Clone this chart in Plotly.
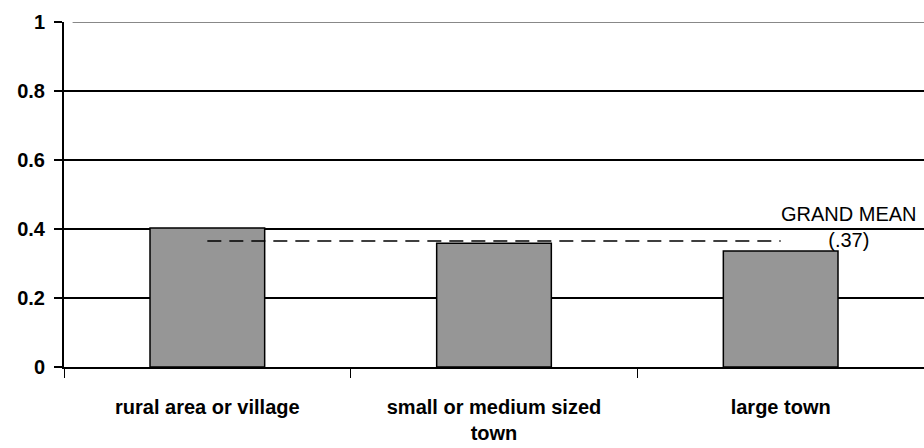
import plotly.graph_objects as go

# ---- data ----
categories = ['rural area or village', 'small or medium sized<br>town', 'large town']
values = [0.403, 0.359, 0.336]
grand_mean = 0.365
y_ticks = [0, 0.2, 0.4, 0.6, 0.8, 1]
y_labels = ['0', '0.2', '0.4', '0.6', '0.8', '1']

fig = go.Figure()

fig.add_trace(go.Bar(x=categories, y=values,
                     marker=dict(color='#969696', line=dict(color='black', width=1.5)),
                     showlegend=False, hoverinfo='skip'))

# dashed grand mean line from first to last category
fig.add_trace(go.Scatter(x=[categories[0], categories[-1]], y=[grand_mean, grand_mean],
                         mode='lines', line=dict(color='black', width=1.5, dash='14px,8px'),
                         showlegend=False, hoverinfo='skip'))

fig.add_annotation(x=categories[-1], y=grand_mean, xref='x', yref='y',
                   text='GRAND MEAN<br>(.37)', showarrow=False,
                   xanchor='left', yanchor='middle', xshift=-2, yshift=14,
                   align='center',
                   font=dict(family='Arial, Liberation Sans', size=20, color='black'))

# light top border at 1
fig.add_shape(type='line', xref='paper', yref='y', x0=0.01, x1=1, y0=1, y1=1,
              line=dict(color='#888888', width=2))

fig.update_layout(
    width=924, height=448,
    margin=dict(l=64, r=0, t=22, b=81),
    plot_bgcolor='white', paper_bgcolor='white',
    bargap=0.6,
    font=dict(family='Arial, Liberation Sans', color='black'),
    xaxis=dict(showline=True, linecolor='black', linewidth=1.5,
               ticks='outside', ticklen=9, tickwidth=1.2, tickcolor='black',
               tickson='boundaries', showgrid=False,
               ticklabelstandoff=21,
               tickfont=dict(size=20, family='Arial, Liberation Sans', weight='bold')),
    yaxis=dict(range=[0, 1], tickvals=y_ticks, ticktext=y_labels,
               showline=True, linecolor='black', linewidth=2,
               ticks='outside', ticklen=8, tickwidth=1.5, tickcolor='black',
               showgrid=True, gridcolor='black', gridwidth=1.5,
               zeroline=False, ticklabelstandoff=5,
               tickfont=dict(size=20, family='Arial, Liberation Sans', weight='bold')),
)

fig.write_html("out.html", config={'displayModeBar': False},
               post_script="document.body.style.margin='0';")
